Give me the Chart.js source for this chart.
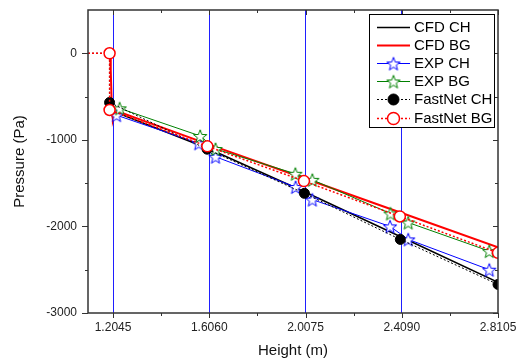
<!DOCTYPE html>
<html><head><meta charset="utf-8">
<script src="https://cdn.jsdelivr.net/npm/chart.js@4/dist/chart.umd.min.js"></script>
<style>html,body{margin:0;padding:0;background:#fff}#wrap{width:516px;height:358px}</style>
</head><body><div id="wrap"><canvas id="c" width="516" height="358"></canvas></div>
<script>
// ---- data ----
const seriesNames = ['CFD CH','CFD BG','EXP CH','EXP BG','FastNet CH','FastNet BG'];

const cfdChX = [1.192, 1.195, 1.199, 1.203, 1.210, 1.232, 1.606, 2.0075, 2.409, 2.8105];
const cfdChY = [-560, -620, -700, -740, -710, -700, -1105, -1605, -2125, -2645];

const cfdBgX = [1.192, 1.195, 1.198, 1.201, 1.204, 1.210, 1.232, 1.606, 2.0075, 2.409, 2.8105];
const cfdBgY = [0, -200, -500, -700, -770, -710, -680, -1055, -1450, -1845, -2240];

const expChX = [1.219, 1.562, 1.632, 1.966, 2.036, 2.360, 2.436, 2.774];
const expChY = [-715, -1040, -1195, -1545, -1690, -2000, -2150, -2500];

const expBgX = [1.232, 1.568, 1.632, 1.965, 2.036, 2.362, 2.436, 2.774];
const expBgY = [-636, -955, -1105, -1392, -1462, -1850, -1955, -2285];

const fastChX = [1.100, 1.190, 1.190, 1.597, 2.003, 2.403, 2.8105];
const fastChY = [0, 0, -568, -1108, -1618, -2150, -2670];
const fastChMarker = [false, false, true, true, true, true, true];

const fastBgX = [1.100, 1.190, 1.190, 1.598, 2.001, 2.401, 2.8105];
const fastBgY = [0, 0, -655, -1075, -1476, -1885, -2305];
const fastBgMarker = [false, true, true, true, true, true, true];

const xTickValues = [1.2045, 1.6060, 2.0075, 2.4090, 2.8105];
const yTickValues = [-3000, -2000, -1000, 0];
const xRange = [1.1, 2.8105];
const yRange = [-3000, 500];
const xTitle = 'Height (m)';
const yTitle = 'Pressure (Pa)';

// ---- helpers ----
const pts = (xs, ys) => xs.map((x, i) => ({x, y: ys[i]}));
function makeStar(color){
  const s = 18, c = document.createElement('canvas'); c.width = s; c.height = s;
  const g = c.getContext('2d'); g.beginPath();
  const R = 7, r = 2.9, cx = s/2, cy = s/2 + 0.8;
  for (let i = 0; i < 10; i++){
    const a = -Math.PI/2 + i*Math.PI/5, rad = i % 2 ? r : R;
    g.lineTo(cx + rad*Math.cos(a), cy + rad*Math.sin(a));
  }
  g.closePath(); g.fillStyle = '#fff'; g.fill();
  g.strokeStyle = color; g.lineWidth = 1; g.stroke();
  return c;
}
const starBlue = makeStar('#0000ff');
const starGreen = makeStar('#008000');

Chart.defaults.font.family = "'Liberation Sans', Arial, sans-serif";
Chart.defaults.color = '#111';

const datasets = [
  {label: seriesNames[0], data: pts(cfdChX, cfdChY), borderColor: '#000', borderWidth: 1.5, pointRadius: 0, order: 6},
  {label: seriesNames[1], data: pts(cfdBgX, cfdBgY), borderColor: '#ff0000', borderWidth: 2, pointRadius: 0, order: 5},
  {label: seriesNames[2], data: pts(expChX, expChY), borderColor: '#0000ff', borderWidth: 1, pointStyle: starBlue, pointRadius: 7, order: 4},
  {label: seriesNames[3], data: pts(expBgX, expBgY), borderColor: '#008000', borderWidth: 1, pointStyle: starGreen, pointRadius: 7, order: 3},
  {label: seriesNames[4], data: pts(fastChX, fastChY), borderColor: '#000', borderWidth: 1, borderDash: [2,2],
   pointRadius: fastChMarker.map(m => m ? 5 : 0), pointBackgroundColor: '#000', pointBorderColor: '#000', pointBorderWidth: 1, order: 2, clip: 0},
  {label: seriesNames[5], data: pts(fastBgX, fastBgY), borderColor: '#ff0000', borderWidth: 1.5, borderDash: [2,2],
   pointRadius: fastBgMarker.map(m => m ? 5.5 : 0), pointBackgroundColor: '#fff', pointBorderColor: '#ff0000', pointBorderWidth: 1.5, order: 1, clip: 0}
];

const framePlugin = {
  id: 'frame',
  afterDatasetsDraw(chart){
    const {ctx, chartArea: a, scales: {x, y}} = chart;
    ctx.save();
    ctx.strokeStyle = '#333';
    ctx.lineWidth = 1;
    const xMaj = xTickValues;
    const xStep = xTickValues[1] - xTickValues[0];
    const xMin = [];
    for (let v = xTickValues[0] - xStep/2; v < xRange[1]; v += xStep) if (v > xRange[0]) xMin.push(v);
    const yMaj = yTickValues;
    const yMin = [];
    for (let v = yTickValues[0] + 500; v < yRange[1]; v += 1000) yMin.push(v);
    ctx.beginPath();
    xMaj.forEach(v => { const p = Math.round(x.getPixelForValue(v)) + 0.5;
      ctx.moveTo(p, a.bottom); ctx.lineTo(p, a.bottom + 5);
      ctx.moveTo(p, a.top); ctx.lineTo(p, a.top + 5); });
    xMin.forEach(v => { const p = Math.round(x.getPixelForValue(v)) + 0.5;
      ctx.moveTo(p, a.bottom); ctx.lineTo(p, a.bottom + 3);
      ctx.moveTo(p, a.top); ctx.lineTo(p, a.top + 3); });
    yMaj.forEach(v => { const p = Math.round(y.getPixelForValue(v)) + 0.5;
      ctx.moveTo(a.left, p); ctx.lineTo(a.left - 6, p);
      ctx.moveTo(a.right, p); ctx.lineTo(a.right - 5, p); });
    yMin.forEach(v => { const p = Math.round(y.getPixelForValue(v)) + 0.5;
      ctx.moveTo(a.left, p); ctx.lineTo(a.left - 3, p);
      ctx.moveTo(a.right, p); ctx.lineTo(a.right - 3, p); });
    ctx.stroke();
    ctx.lineWidth = 1.5;
    ctx.strokeRect(a.left, a.top, a.right - a.left, a.bottom - a.top);
    ctx.restore();
  },
  afterDraw(chart){
    const {ctx, chartArea: a} = chart;
    const bw = 125, bh = 113, bx = a.right - 129, by = a.top + 4;
    ctx.save();
    ctx.fillStyle = '#fff'; ctx.fillRect(bx, by, bw, bh);
    ctx.strokeStyle = '#000'; ctx.lineWidth = 1; ctx.strokeRect(bx + 0.5, by + 0.5, bw, bh);
    chart.data.datasets.forEach((ds, i) => {
      const yy = Math.round(by + 12.5 + i*18.2) + 0.5;
      const x0 = bx + 8, x1 = bx + 41, xm = (x0 + x1)/2;
      ctx.save();
      ctx.strokeStyle = ds.borderColor; ctx.lineWidth = ds.borderWidth;
      ctx.setLineDash(ds.borderDash || []);
      ctx.beginPath(); ctx.moveTo(x0, yy); ctx.lineTo(x1, yy); ctx.stroke();
      ctx.setLineDash([]);
      if (ds.pointStyle && typeof ds.pointStyle !== 'string'){
        const im = ds.pointStyle; ctx.drawImage(im, xm - im.width/2, yy - im.height/2);
      } else if (Array.isArray(ds.pointRadius)){
        const r = Math.max(...ds.pointRadius) + 0.5;
        ctx.beginPath(); ctx.arc(xm, yy, r, 0, Math.PI*2);
        ctx.fillStyle = ds.pointBackgroundColor; ctx.fill();
        ctx.lineWidth = ds.pointBorderWidth; ctx.strokeStyle = ds.pointBorderColor; ctx.stroke();
      }
      ctx.restore();
      ctx.fillStyle = '#000'; ctx.font = "15px 'Liberation Sans', Arial, sans-serif";
      ctx.textBaseline = 'middle'; ctx.textAlign = 'left';
      ctx.fillText(ds.label, bx + 45, yy + 0.5);
    });
    ctx.restore();
  }
};

new Chart(document.getElementById('c'), {
  type: 'line',
  data: {datasets},
  options: {
    responsive: false, animation: false, devicePixelRatio: 1,
    layout: {padding: {left: 0, right: 18, top: 10, bottom: 0}},
    plugins: {legend: {display: false}, tooltip: {enabled: false}},
    elements: {line: {tension: 0, fill: false}},
    scales: {
      x: {
        type: 'linear', min: xRange[0], max: xRange[1], bounds: 'data',
        afterBuildTicks: s => { s.ticks = xTickValues.map(v => ({value: v})); },
        afterFit: s => { s.height = 45; s.paddingLeft = 0; s.paddingRight = 0; },
        ticks: {autoSkip: false, maxRotation: 0, padding: 7, color: '#222', font: {size: 12},
                callback: v => Number(v).toFixed(4)},
        grid: {display: true, drawOnChartArea: true, drawTicks: false, lineWidth: 1,
               color: c => (c.tick && c.tick.value >= xRange[1]) ? 'rgba(0,0,0,0)' : '#1f1fff'},
        border: {display: false},
        title: {display: true, text: xTitle, color: '#111', font: {size: 15, lineHeight: 1}, padding: {top: 0, bottom: 0}}
      },
      y: {
        type: 'linear', min: yRange[0], max: yRange[1], bounds: 'data',
        afterBuildTicks: s => { s.ticks = yTickValues.map(v => ({value: v})); },
        afterFit: s => { s.width = 88; s.paddingTop = 0; s.paddingBottom = 0; },
        ticks: {autoSkip: false, padding: 11, color: '#222', font: {size: 12}, callback: v => String(v)},
        grid: {display: true, drawOnChartArea: false, drawTicks: false},
        border: {display: false},
        title: {display: true, text: yTitle, color: '#111', font: {size: 15, lineHeight: 1.2}, padding: {top: 11, bottom: 0}}
      }
    }
  },
  plugins: [framePlugin]
});
</script>
</body></html>
